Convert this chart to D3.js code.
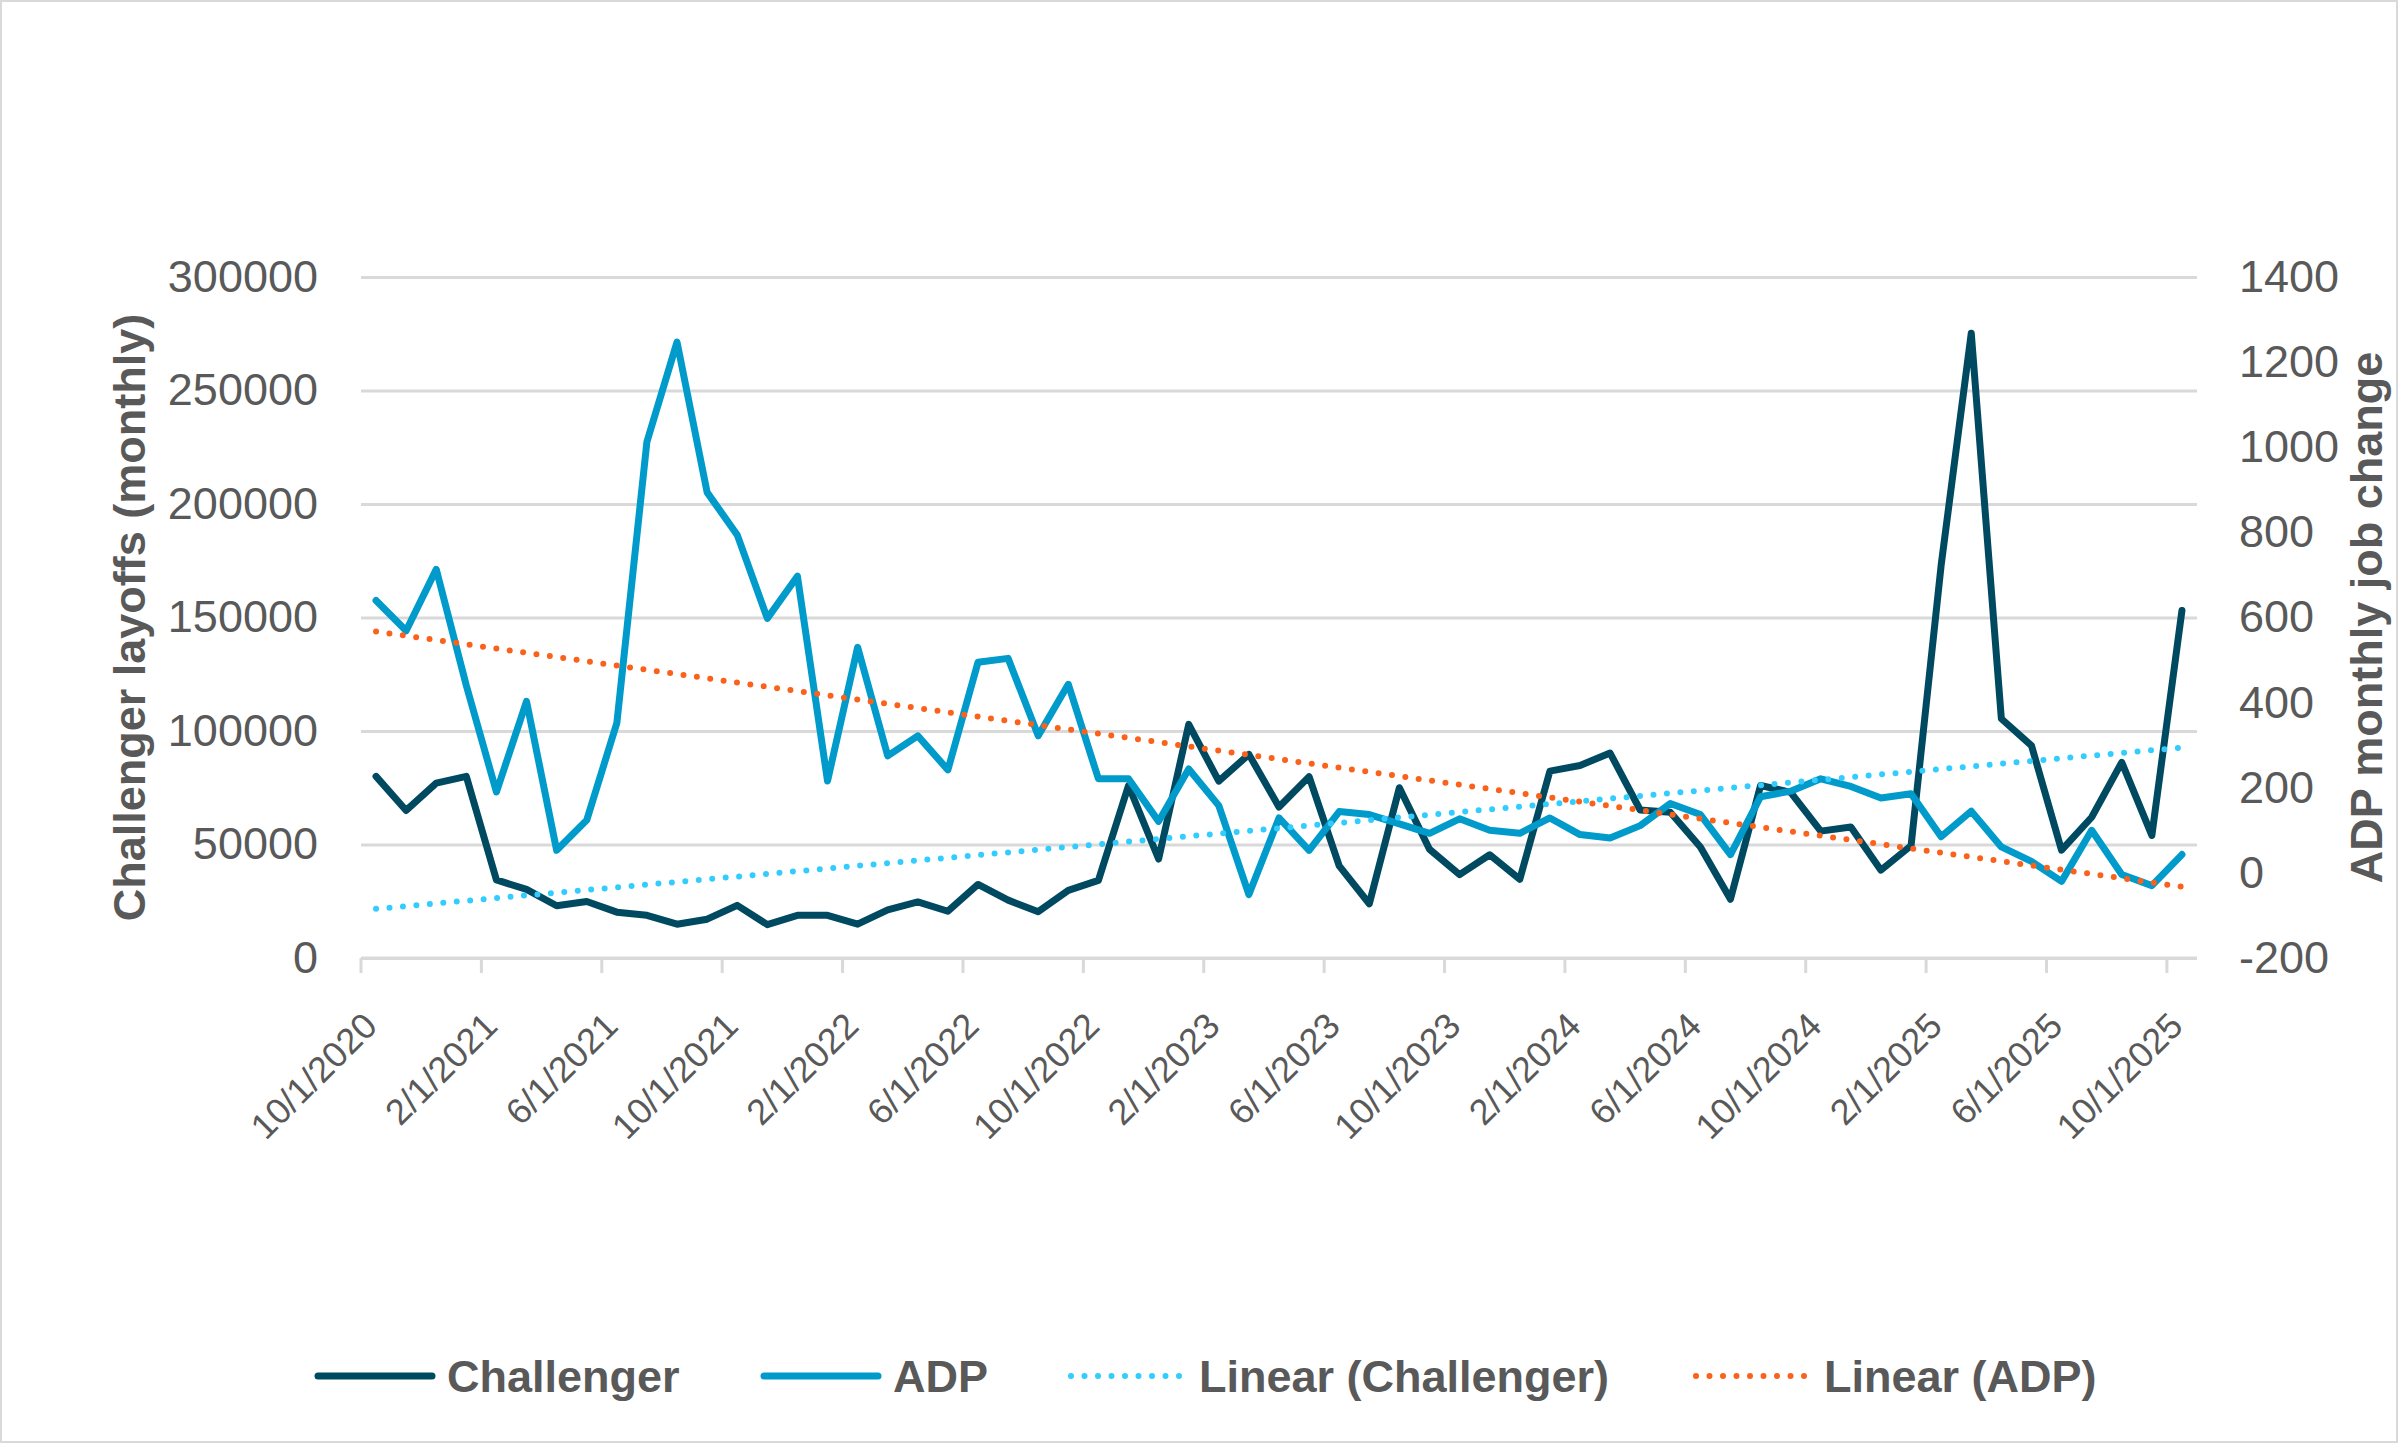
<!DOCTYPE html>
<html lang="en"><head>
<meta charset="utf-8">
<title>Challenger layoffs vs ADP monthly job change</title>
<script type="text/javascript" src="https://cdn.jsdelivr.net/npm/d3@7"></script>
<style type="text/css">
  body { margin: 0; background: #fff; }
  text { font-family: "Liberation Sans", Arial, sans-serif; fill: #595959; }
</style>
</head>
<body>
<script type="text/javascript">

// monthly categories, Oct 2020 .. Oct 2025
var firstMonth = new Date(2020, 9, 1);
var lastMonth = new Date(2025, 9, 1);

var tickLabels = ["10/1/2020","2/1/2021","6/1/2021","10/1/2021","2/1/2022","6/1/2022","10/1/2022",
  "2/1/2023","6/1/2023","10/1/2023","2/1/2024","6/1/2024","10/1/2024","2/1/2025","6/1/2025","10/1/2025"];

var challenger = [80000,65000,77000,80000,34400,30200,23000,24900,20200,18800,14900,17100,
  23200,14700,18800,18800,14900,21200,24700,20600,32400,25500,20400,29800,34200,76000,
  43600,102900,77900,89700,66500,79900,40600,23900,75000,47900,36700,45500,34700,82300,
  84800,90300,65200,64200,48900,25900,76000,73000,55900,57700,38700,49500,173100,275200,
  105400,93600,47500,62000,86200,54000,153100];

var adp = [640,569,713,440,190,403,53,124,352,1013,1247,894,794,598,697,216,530,275,322,242,
  495,504,322,443,221,221,121,244,158,-51,129,53,144,137,115,93,127,100,93,129,90,82,111,
  163,137,43,179,192,221,203,176,186,85,145,61,27,-20,100,-4,-30,43];

var leftTicks = [0,50000,100000,150000,200000,250000,300000];
var rightTicks = [-200,0,200,400,600,800,1000,1200,1400];

var legendItems = ["Challenger","ADP","Linear (Challenger)","Linear (ADP)"];

var width = 2400, height = 1445;
var padding = {top:277, bottom:487, left:361, right:203};
var colors = {challenger:"#004A61", adp:"#009BCB", trendC:"#33CCFF", trendA:"#FA621C", grid:"#D9D9D9"};

var fmt = d3.timeFormat("%-m/%-d/%Y");
var months = d3.timeMonth.range(firstMonth, d3.timeMonth.offset(lastMonth, 1)).map(fmt);

var svg = d3.select("body").append("svg").attr("width", width).attr("height", height);

svg.append("rect").attr("x",1).attr("y",1).attr("width",width-4).attr("height",height-4)
  .attr("fill","#fff").attr("stroke",colors.grid).attr("stroke-width",2);

var x = d3.scaleBand().domain(months).range([padding.left, width-padding.right]);
var cx = function(i){ return x(months[i]) + x.bandwidth()/2; };
var yL = d3.scaleLinear().domain([0,300000]).range([height-padding.bottom, padding.top]);
var yR = d3.scaleLinear().domain([-200,1400]).range([height-padding.bottom, padding.top]);

var plain = function(d){ return String(d); };

// gridlines + left axis
var gL = svg.append("g").attr("transform","translate("+padding.left+",0)")
  .call(d3.axisLeft(yL).tickValues(leftTicks).tickFormat(plain)
    .tickSize(-(width-padding.left-padding.right)).tickPadding(43));
gL.select(".domain").remove();
gL.selectAll("line").attr("stroke",colors.grid).attr("stroke-width",3);
gL.selectAll("text").attr("font-size","45px").attr("fill","#595959");

var gR = svg.append("g").attr("transform","translate("+(width-padding.right)+",0)")
  .call(d3.axisRight(yR).tickValues(rightTicks).tickFormat(plain).tickSize(0).tickPadding(42));
gR.select(".domain").remove();
gR.selectAll("text").attr("font-size","45px").attr("fill","#595959");

// x axis
var xTickIdx = months.map(function(m,i){return i;}).filter(function(i){ return i%4===0; });
var gX = svg.append("g");
gX.append("line").attr("x1",padding.left).attr("x2",width-padding.right)
  .attr("y1",yL(0)).attr("y2",yL(0)).attr("stroke",colors.grid).attr("stroke-width",3);
gX.selectAll("line.tick").data(xTickIdx).enter().append("line").attr("class","tick")
  .attr("x1",function(i){return x(months[i]);}).attr("x2",function(i){return x(months[i]);})
  .attr("y1",yL(0)).attr("y2",yL(0)+15).attr("stroke",colors.grid).attr("stroke-width",3);
gX.selectAll("text").data(tickLabels).enter().append("text")
  .attr("transform",function(d,k){ return "translate("+(cx(xTickIdx[k])+3)+","+(yL(0)+70)+") rotate(-45)"; })
  .attr("text-anchor","end").attr("font-size","36px").text(function(d){return d;});

// linear trendlines (least squares on month index)
function trend(vals){
  var n = vals.length, mx = d3.mean(vals, function(v,i){return i;}), my = d3.mean(vals);
  var sxy = d3.sum(vals, function(v,i){return (i-mx)*(v-my);});
  var sxx = d3.sum(vals, function(v,i){return (i-mx)*(i-mx);});
  var b = sxy/sxx, a = my - b*mx;
  return [[0, a], [n-1, a+b*(n-1)]];
}

var lineL = d3.line().x(function(d,i){return cx(i);}).y(function(d){return yL(d);});
var lineR = d3.line().x(function(d,i){return cx(i);}).y(function(d){return yR(d);});

svg.append("path").datum(challenger).attr("d",lineL).attr("fill","none")
  .attr("stroke",colors.challenger).attr("stroke-width",7).attr("stroke-linejoin","round").attr("stroke-linecap","round");
svg.append("path").datum(adp).attr("d",lineR).attr("fill","none")
  .attr("stroke",colors.adp).attr("stroke-width",7).attr("stroke-linejoin","round").attr("stroke-linecap","round");

var trendLine = function(ys){ return d3.line().x(function(d){return cx(d[0]);}).y(function(d){return ys(d[1]);}); };
svg.append("path").datum(trend(challenger)).attr("d",trendLine(yL)).attr("fill","none")
  .attr("stroke",colors.trendC).attr("stroke-width",6).attr("stroke-dasharray","0 13.5").attr("stroke-linecap","round");
svg.append("path").datum(trend(adp)).attr("d",trendLine(yR)).attr("fill","none")
  .attr("stroke",colors.trendA).attr("stroke-width",6).attr("stroke-dasharray","0 13.5").attr("stroke-linecap","round");

// axis titles
svg.append("text").attr("transform","translate(145,"+((padding.top+height-padding.bottom)/2)+") rotate(-90)")
  .attr("text-anchor","middle").attr("font-size","45px").attr("font-weight","bold").text("Challenger layoffs (monthly)");
svg.append("text").attr("transform","translate(2382,"+((padding.top+height-padding.bottom)/2)+") rotate(-90)")
  .attr("text-anchor","middle").attr("font-size","45px").attr("font-weight","bold").text("ADP monthly job change");

// legend
var legendX = [314, 760, 1067, 1692];
var legendStyle = [
  {c:colors.challenger, w:7, dash:null},
  {c:colors.adp, w:7, dash:null},
  {c:colors.trendC, w:6, dash:"0 13.5"},
  {c:colors.trendA, w:6, dash:"0 13.5"}];
var lg = svg.selectAll("g.legend").data(legendItems).enter().append("g").attr("class","legend")
  .attr("transform",function(d,i){return "translate("+legendX[i]+",1376)";});
lg.append("line").attr("x1",4).attr("x2",118).attr("y1",0).attr("y2",0)
  .attr("stroke",function(d,i){return legendStyle[i].c;})
  .attr("stroke-width",function(d,i){return legendStyle[i].w;})
  .attr("stroke-dasharray",function(d,i){return legendStyle[i].dash;})
  .attr("stroke-linecap","round");
lg.append("text").attr("x",function(d,i){return i<2 ? 133 : 132;}).attr("y",16)
  .attr("font-size","45px").attr("font-weight","bold").text(function(d){return d;});

</script>
</body>
</html>
